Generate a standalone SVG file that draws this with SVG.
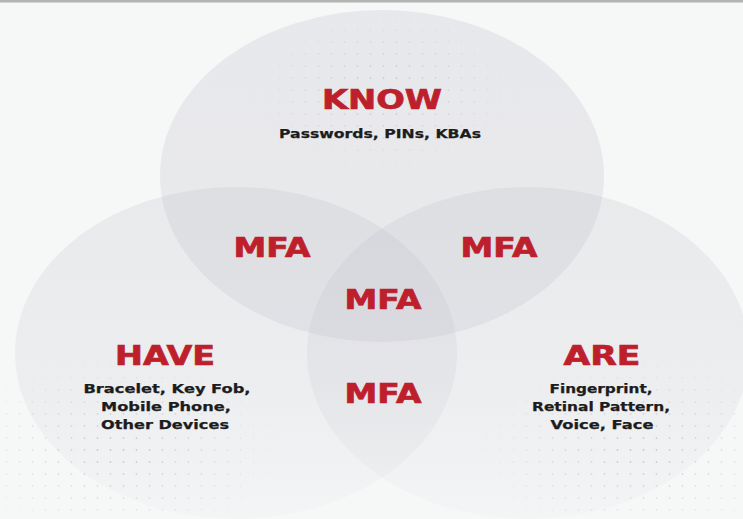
<svg xmlns="http://www.w3.org/2000/svg" width="743" height="519" viewBox="0 0 743 519">
  <style>
    .title { font-family: "DejaVu Sans", "Liberation Sans", sans-serif; font-weight: bold; fill: #bd202b; stroke: #bd202b; stroke-width: 0.7; font-size: 26.5px; text-anchor: middle; }
    .mfa { font-family: "DejaVu Sans", "Liberation Sans", sans-serif; font-weight: bold; fill: #bd202b; stroke: #bd202b; stroke-width: 0.7; font-size: 26.5px; text-anchor: middle; }
    .sub { font-family: "DejaVu Sans", "Liberation Sans", sans-serif; font-weight: bold; fill: #1c1c1c; stroke: #1c1c1c; stroke-width: 0.25; font-size: 12.5px; text-anchor: middle; }
  </style>
  <defs>
    <pattern id="dots" x="0" y="0" width="13" height="12" patternUnits="userSpaceOnUse">
      <circle cx="6.5" cy="6" r="0.9" fill="#cbcbd1"/>
    </pattern>
    <radialGradient id="fade" cx="0.5" cy="0.5" r="0.5">
      <stop offset="0" stop-color="#fff" stop-opacity="1"/>
      <stop offset="1" stop-color="#fff" stop-opacity="0"/>
    </radialGradient>
    <mask id="dotmask" maskUnits="userSpaceOnUse" x="0" y="0" width="743" height="519">
      <ellipse cx="385" cy="90" rx="140" ry="85" fill="url(#fade)"/>
      <ellipse cx="120" cy="450" rx="170" ry="100" fill="url(#fade)"/>
      <ellipse cx="640" cy="450" rx="170" ry="100" fill="url(#fade)"/>
    </mask>
    <linearGradient id="gTop" x1="0" y1="0" x2="0" y2="1">
      <stop offset="0" stop-color="#b4b4c0" stop-opacity="0.22"/>
      <stop offset="1" stop-color="#b4b4c0" stop-opacity="0.2"/>
    </linearGradient>
    <linearGradient id="gBot" x1="0" y1="0" x2="0" y2="1">
      <stop offset="0" stop-color="#b4b4c0" stop-opacity="0.2"/>
      <stop offset="0.6" stop-color="#b4b4c0" stop-opacity="0.14"/>
      <stop offset="1" stop-color="#b4b4c0" stop-opacity="0.04"/>
    </linearGradient>
  </defs>

  <rect x="0" y="0" width="743" height="519" fill="#f6f7f7"/>
  <rect x="0" y="0" width="743" height="519" fill="url(#dots)" mask="url(#dotmask)"/>
  <rect x="0" y="0" width="743" height="2.5" fill="#b3b3b3"/>

  <g id="circles">
    <ellipse id="circle-know" cx="382" cy="176" rx="222" ry="166" fill="url(#gTop)"/>
    <ellipse id="circle-have" cx="236" cy="353" rx="221" ry="166" fill="url(#gBot)"/>
    <ellipse id="circle-are" cx="528" cy="353" rx="221" ry="166" fill="url(#gBot)"/>
  </g>

  <g id="connectors"></g>

  <g id="know">
    <text class="title" x="382" y="109" textLength="120" lengthAdjust="spacingAndGlyphs">KNOW</text>
    <text class="sub" x="380" y="138" textLength="202" lengthAdjust="spacingAndGlyphs">Passwords, PINs, KBAs</text>
  </g>

  <g id="have">
    <text class="title" x="165" y="365" textLength="100" lengthAdjust="spacingAndGlyphs">HAVE</text>
    <text class="sub" x="167" y="393" textLength="167" lengthAdjust="spacingAndGlyphs">Bracelet, Key Fob,</text>
    <text class="sub" x="166" y="411" textLength="130" lengthAdjust="spacingAndGlyphs">Mobile Phone,</text>
    <text class="sub" x="165" y="429" textLength="128" lengthAdjust="spacingAndGlyphs">Other Devices</text>
  </g>

  <g id="are">
    <text class="title" x="602" y="365" textLength="77" lengthAdjust="spacingAndGlyphs">ARE</text>
    <text class="sub" x="601" y="393" textLength="103" lengthAdjust="spacingAndGlyphs">Fingerprint,</text>
    <text class="sub" x="601" y="411" textLength="138" lengthAdjust="spacingAndGlyphs">Retinal Pattern,</text>
    <text class="sub" x="602" y="429" textLength="103" lengthAdjust="spacingAndGlyphs">Voice, Face</text>
  </g>

  <g id="mfa-know-have">
    <text class="mfa" x="272" y="257" textLength="77" lengthAdjust="spacingAndGlyphs">MFA</text>
  </g>
  <g id="mfa-know-are">
    <text class="mfa" x="499" y="257" textLength="77" lengthAdjust="spacingAndGlyphs">MFA</text>
  </g>
  <g id="mfa-center">
    <text class="mfa" x="383" y="309" textLength="77" lengthAdjust="spacingAndGlyphs">MFA</text>
  </g>
  <g id="mfa-have-are">
    <text class="mfa" x="383" y="403" textLength="77" lengthAdjust="spacingAndGlyphs">MFA</text>
  </g>
</svg>
